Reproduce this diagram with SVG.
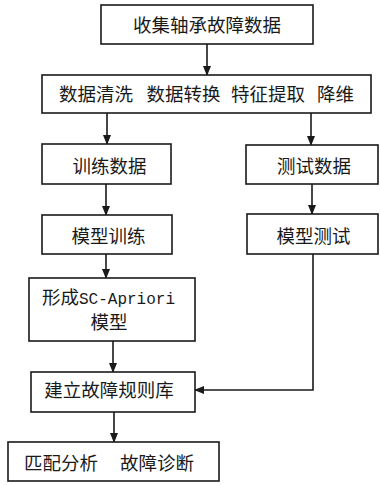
<svg xmlns="http://www.w3.org/2000/svg" width="380" height="485" viewBox="0 0 380 485">
<style>
.box{fill:#fff;stroke:#1a1a1a;stroke-width:1.6}
.t{font-family:"Noto Sans CJK SC","Noto Sans",sans-serif;font-size:18.5px;fill:#1a1a1a;text-anchor:middle}
.m{font-family:"Liberation Mono",monospace;font-size:16px}
.ln{fill:none;stroke:#1a1a1a;stroke-width:1.6}
</style>
<defs>
<marker id="ah" markerWidth="10" markerHeight="8" refX="9" refY="4" orient="auto" markerUnits="userSpaceOnUse">
<path d="M0,0 L10,4 L0,8 Z" fill="#1a1a1a"/>
</marker>
</defs>
<rect width="380" height="485" fill="#fff"/>
<g id="connectors">
<line class="ln" x1="207" y1="44" x2="207" y2="75" marker-end="url(#ah)"/>
<line class="ln" x1="107" y1="113" x2="107" y2="144" marker-end="url(#ah)"/>
<line class="ln" x1="311" y1="113" x2="311" y2="145" marker-end="url(#ah)"/>
<line class="ln" x1="106" y1="184" x2="106" y2="215" marker-end="url(#ah)"/>
<line class="ln" x1="312" y1="184" x2="312" y2="214" marker-end="url(#ah)"/>
<line class="ln" x1="106" y1="254" x2="106" y2="278" marker-end="url(#ah)"/>
<line class="ln" x1="113" y1="341" x2="113" y2="372" marker-end="url(#ah)"/>
<polyline class="ln" points="313,254 313,390 195,390" marker-end="url(#ah)"/>
<line class="ln" x1="114" y1="412" x2="114" y2="442" marker-end="url(#ah)"/>
</g>
<g id="n1"><rect class="box" x="101" y="5" width="212" height="39"/><text class="t" x="207" y="32">收集轴承故障数据</text></g>
<g id="n2"><rect class="box" x="42" y="75" width="329" height="38"/>
<text class="t" y="101"><tspan x="96">数据清洗</tspan><tspan x="183.5">数据转换</tspan><tspan x="268">特征提取</tspan><tspan x="335.5">降维</tspan></text></g>
<g id="n3"><rect class="box" x="42" y="144" width="129" height="40"/><text class="t" x="109.5" y="173">训练数据</text></g>
<g id="n4"><rect class="box" x="246" y="145" width="132" height="39"/><text class="t" x="314" y="173">测试数据</text></g>
<g id="n5"><rect class="box" x="42" y="215" width="130" height="39"/><text class="t" x="108.5" y="243">模型训练</text></g>
<g id="n6"><rect class="box" x="247" y="214" width="131" height="40"/><text class="t" x="313.5" y="243">模型测试</text></g>
<g id="n7"><rect class="box" x="29" y="278" width="166" height="63"/>
<text class="t" x="108.5" y="304">形成<tspan class="m">SC-Apriori</tspan></text>
<text class="t" x="109" y="329">模型</text></g>
<g id="n8"><rect class="box" x="31" y="372" width="164" height="40"/><text class="t" x="109" y="397">建立故障规则库</text></g>
<g id="n9"><rect class="box" x="8" y="442" width="211" height="39"/>
<text class="t" y="470"><tspan x="61">匹配分析</tspan><tspan x="157">故障诊断</tspan></text></g>
</svg>
